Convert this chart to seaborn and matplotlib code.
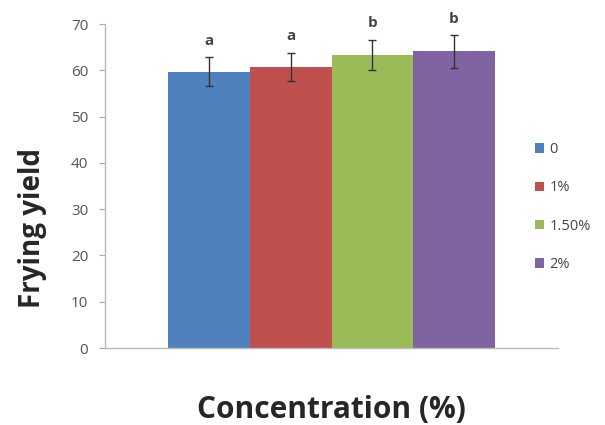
import numpy as np
import pandas as pd
import matplotlib
matplotlib.use("Agg")
import matplotlib.pyplot as plt
import seaborn as sns

# data
concentrations = ["0", "1%", "1.50%", "2%"]
frying_yield = [59.7, 60.7, 63.3, 64.1]
yield_err = [3.1, 3.1, 3.3, 3.5]
letters = ["a", "a", "b", "b"]
colors = ["#4F81BD", "#C0504D", "#9BBB59", "#8064A2"]

sns.set_style("white")
plt.rcParams["font.family"] = ["Open Sans", "DejaVu Sans"]

df = pd.DataFrame({"group": [""] * 4, "conc": concentrations, "yield": frying_yield})

fig = plt.figure(figsize=(6.05, 4.25), dpi=100)
ax = fig.add_axes([105 / 605, 1 - 348 / 425, 453 / 605, 324 / 425])

sns.barplot(data=df, x="group", y="yield", hue="conc", palette=colors,
            width=0.72, gap=0, errorbar=None, saturation=1, ax=ax, legend=True,
            edgecolor="none", linewidth=0)

# error bars and letters on top of each bar
bars = ax.patches[:4]
for bar, val, err, let in zip(bars, frying_yield, yield_err, letters):
    xc = bar.get_x() + bar.get_width() / 2
    ax.errorbar(xc, val, yerr=err, fmt="none", ecolor="#333333", elinewidth=1,
                capsize=3, capthick=1)
    ax.text(xc, val + err + 2.0, let, ha="center", va="bottom", fontsize=11,
            fontweight="bold", color="#444444")

ax.set_xlim(-0.5, 0.5)
ax.set_ylim(0, 70)
ax.set_yticks(range(0, 71, 10))
ax.set_xticks([])
ax.tick_params(axis="y", direction="out", length=4, color="#aaaaaa", left=True,
               labelsize=11, labelcolor="#555555", pad=8)
for s in ["top", "right"]:
    ax.spines[s].set_visible(False)
for s in ["left", "bottom"]:
    ax.spines[s].set_color("#bbbbbb")
    ax.spines[s].set_linewidth(1)

ax.set_xlabel("Concentration (%)", fontsize=21.5, fontweight="bold", labelpad=34)
ax.set_ylabel("Frying yield", fontsize=20, fontweight="bold")
# the y title sits below the middle of the axis in the original
ax.yaxis.set_label_coords(-0.128, 0.37)

leg = ax.legend(loc="center left", bbox_to_anchor=(0.92, 0.435), frameon=False,
                handlelength=0.6, handleheight=0.6, handletextpad=0.4,
                labelspacing=1.6, fontsize=10.5)
for t in leg.get_texts():
    t.set_color("#444444")

fig.savefig("out.png", dpi=100)
